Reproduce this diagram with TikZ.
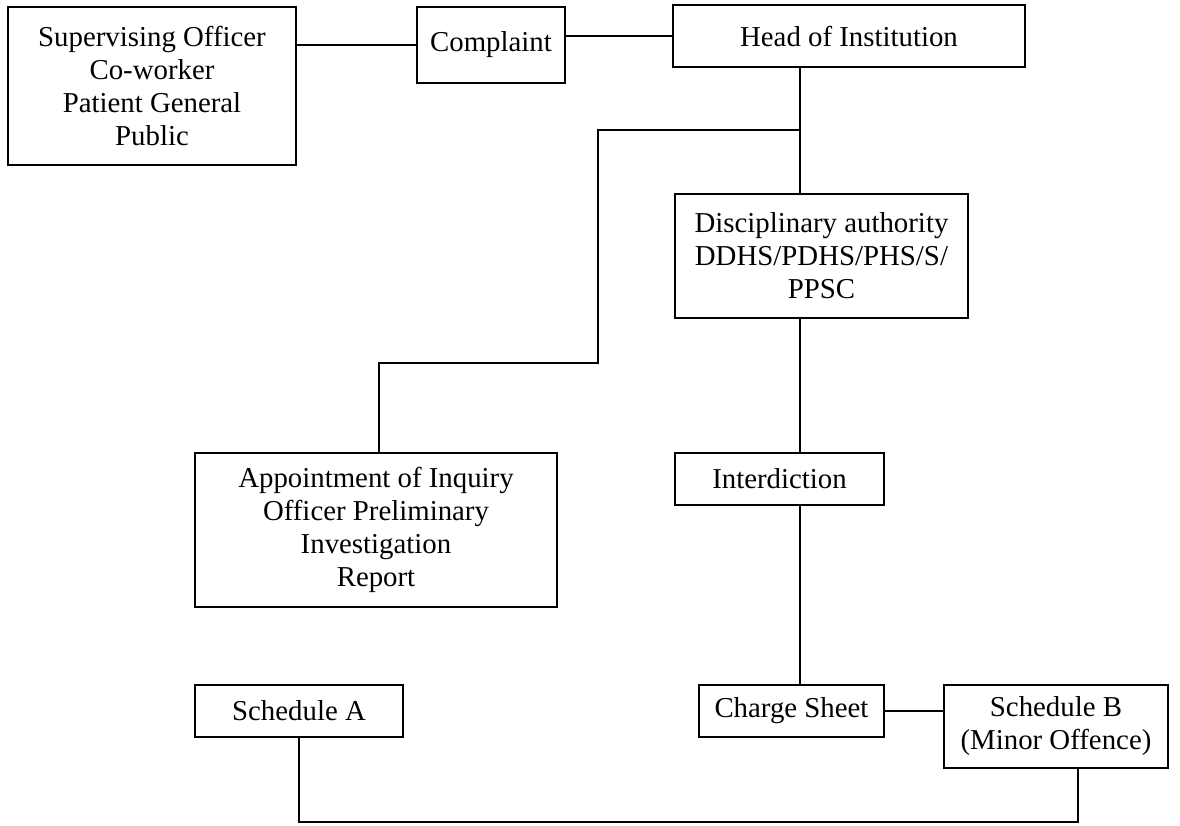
\documentclass[tikz,border=0pt]{standalone}
\usepackage{fontspec}
\setmainfont{Liberation Serif}
\usepackage{tikz}
\tikzstyle{boite} = [rectangle, draw=black, line width=1.5pt, inner sep=0pt, align=center, font=\fontsize{20.5}{23.5}\selectfont]
\tikzstyle{trait} = [line width=1.5pt]

\begin{document}
\begin{tikzpicture}[x=0.025cm, y=-0.025cm]

        \useasboundingbox (0,0) rectangle (1180,826);

        \node (SO) [boite, minimum width=7.2cm, minimum height=3.95cm] at (152,86) {Supervising Officer\\Co-worker\\Patient General\\Public};
        \node (CP) [boite, minimum width=3.7cm, minimum height=1.9cm] at (491,45) {Complaint};
        \node (HI) [boite, minimum width=8.8cm, minimum height=1.55cm] at (849,36) {Head of Institution};

        \node (DA) [boite, minimum width=7.325cm, minimum height=3.1cm] at (821.5,256) {Disciplinary authority\\DDHS/PDHS/PHS/S/\\PPSC};
        \node (AI) [boite, minimum width=9.05cm, minimum height=3.85cm] at (376,530) {Appointment of Inquiry\\Officer Preliminary\\Investigation\\Report};
        \node (IN) [boite, minimum width=5.225cm, minimum height=1.3cm] at (779.5,479) {Interdiction};

        \node (SA) [boite, minimum width=5.2cm, minimum height=1.3cm] at (299,711) {Schedule A};
        \node (CS) [boite, minimum width=4.625cm, minimum height=1.3cm] at (791.5,711) {Charge Sheet};
        \node (SB) [boite, minimum width=5.6cm, minimum height=2.075cm] at (1056,726.5) {Schedule B\\(Minor Offence)};

        \coordinate (jn) at (800,130);
        \coordinate (coudeA) at (598,363);
        \coordinate (coudeB) at (379,363);
        \coordinate (bas) at (1078,822);

        \draw[trait] (CP.west -| SO.east) -- (CP.west);
        \draw[trait] (HI.west -| CP.east) -- (HI.west);
        \draw[trait] (HI.south -| jn) -- (jn) -- (DA.north -| jn);
        \draw[trait] (jn) -| (coudeA) -- (coudeB) -- (coudeB |- AI.north);
        \draw[trait] (DA.south -| jn) -- (IN.north -| jn);
        \draw[trait] (IN.south -| jn) -- (CS.north -| jn);
        \draw[trait] (CS.east) -- (CS.east -| SB.west);
        \draw[trait] (SA.south) |- (bas) -- (bas |- SB.south);

\end{tikzpicture}
\end{document}
